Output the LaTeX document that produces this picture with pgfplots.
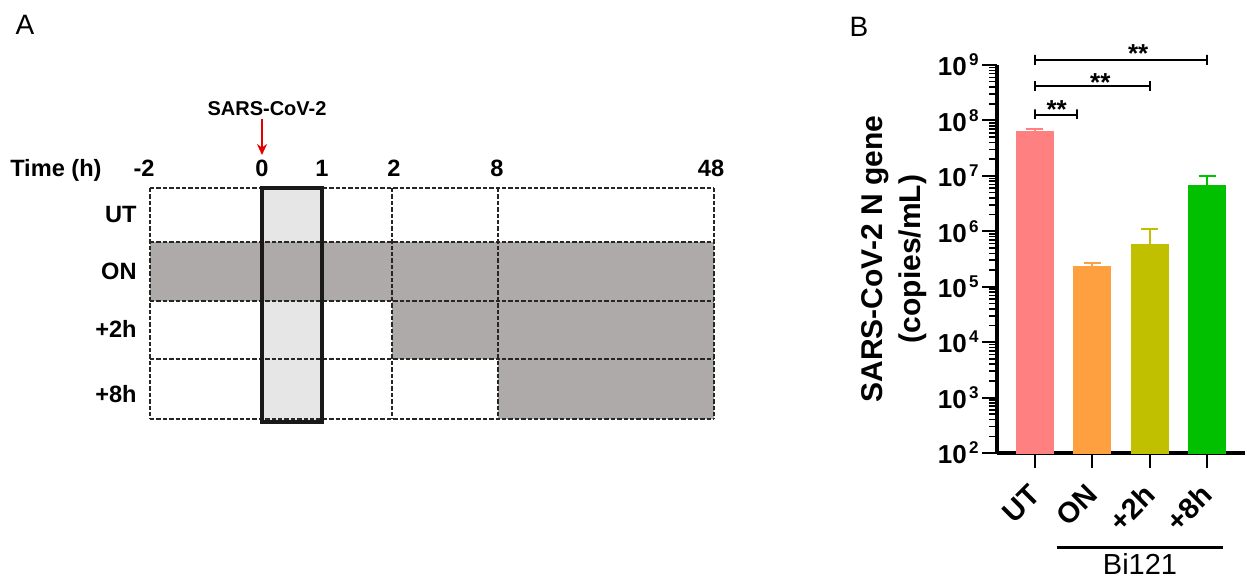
\documentclass[border=0pt]{standalone}
\usepackage{fontspec}
\setmainfont{Liberation Sans}
\usepackage{pgfplots}
\pgfplotsset{compat=1.18}
\usetikzlibrary{arrows.meta}

\definecolor{cUT}{RGB}{255,128,128}
\definecolor{cON}{RGB}{255,160,64}
\definecolor{ctwo}{RGB}{192,192,0}
\definecolor{ceight}{RGB}{0,192,0}
\definecolor{darkfill}{RGB}{174,170,169}
\definecolor{lightfill}{RGB}{230,230,230}
\newcommand{\pw}[1]{10\hspace{1.2pt}\raisebox{5pt}{\fontsize{8.5}{8.5}\selectfont #1}}

\begin{document}
\begin{tikzpicture}
\useasboundingbox (0,0) rectangle (623.5pt,-289.5pt);
% ---------- Panel A and free text, in pixel coordinates ----------
\begin{axis}[at={(311.75pt,-144.75pt)}, anchor=center, scale only axis,
  width=623.5pt, height=289.5pt, xmin=0, xmax=1247, ymin=0, ymax=579,
  y dir=reverse, hide axis, clip=false, unbounded coords=jump]
\addplot[fill=lightfill, draw=none] coordinates {(262,188)(322,188)(322,421)(262,421)} -- cycle;
\addplot[fill=darkfill, draw=none] coordinates {(150,242)(714,242)(714,301)(150,301)} -- cycle;
\addplot[fill=darkfill, draw=none] coordinates {(392,301)(714,301)(714,359)(392,359)} -- cycle;
\addplot[fill=darkfill, draw=none] coordinates {(498,359)(714,359)(714,419)(498,419)} -- cycle;
\addplot[black!85, line width=0.7pt, dash pattern=on 2.2pt off 1pt] coordinates {
 (150,188)(714,188) (nan,nan) (150,242)(714,242) (nan,nan) (150,301)(714,301) (nan,nan)
 (150,359)(714,359) (nan,nan) (150,419)(714,419) (nan,nan) (150,188)(150,419) (nan,nan)
 (392,188)(392,419) (nan,nan) (498,188)(498,419) (nan,nan) (714,188)(714,419)};
\addplot[black!90, line width=1.7pt] coordinates {(262,188)(322,188)(322,422)(262,422)} -- cycle;
\addplot[red!90!black, line width=1pt, -{Stealth[length=5.5pt,width=5pt]}] coordinates {(262,119)(262,155)};
% text
\node[font=\fontsize{14}{14}\selectfont] at (axis cs:25,25) {A};
\node[font=\fontsize{14}{14}\selectfont] at (axis cs:859,27) {B};
\node[font=\fontsize{10}{10}\selectfont\bfseries, anchor=base] at (axis cs:267,115) {SARS-CoV-2};
\begin{scope}[every node/.style={font=\fontsize{11.8}{12}\selectfont\bfseries, anchor=base, inner sep=0pt}]
\node[anchor=base east] at (axis cs:102,176) {Time (h)};
\node at (axis cs:144,176) {-2};
\node at (axis cs:262,176) {0};
\node at (axis cs:322,176) {1};
\node at (axis cs:394,176) {2};
\node at (axis cs:497,176) {8};
\node at (axis cs:711,176) {48};
\node[anchor=base east] at (axis cs:137,222) {UT};
\node[anchor=base east] at (axis cs:137,279) {ON};
\node[anchor=base east] at (axis cs:137,337) {+2h};
\node[anchor=base east] at (axis cs:137,402) {+8h};
\end{scope}
\addplot[black, line width=1.5pt] coordinates {(1057,547)(1223,547)};
\node[font=\fontsize{14.5}{14.5}\selectfont, anchor=base, inner sep=0pt] at (axis cs:1140,574) {Bi121};
\end{axis}
% ---------- Panel B ----------
\begin{axis}[at={(498.5pt,-226.5pt)}, anchor=south west, scale only axis,
  width=124pt, height=194pt, ymode=log, ymin=1e2, ymax=1e9,
  xmin=-0.659, xmax=3.66, axis x line*=bottom, axis y line*=left,
  axis line style={line width=2pt}, log origin=infty, clip=false,
  xtick={0,1,2,3}, xticklabels={UT,ON,+2h,+8h},
  ytick={1e2,1e3,1e4,1e5,1e6,1e7,1e8,1e9},
  yticklabels={\pw{2},\pw{3},\pw{4},\pw{5},\pw{6},\pw{7},\pw{8},\pw{9}},
  minor ytick={200,300,400,500,600,700,800,900,2000,3000,4000,5000,6000,7000,8000,9000,
   2e4,3e4,4e4,5e4,6e4,7e4,8e4,9e4,2e5,3e5,4e5,5e5,6e5,7e5,8e5,9e5,
   2e6,3e6,4e6,5e6,6e6,7e6,8e6,9e6,2e7,3e7,4e7,5e7,6e7,7e7,8e7,9e7,
   2e8,3e8,4e8,5e8,6e8,7e8,8e8,9e8},
  tick align=outside, major tick length=7.5pt, minor tick length=4pt,
  every major tick/.append style={line width=1pt, black},
  every minor tick/.append style={line width=0.8pt, black},
  xticklabel style={yshift=-8.5pt, xshift=2.5pt, rotate=45, anchor=east,
    font=\fontsize{14.5}{14.5}\selectfont\bfseries},
  yticklabel style={font=\fontsize{13}{13}\selectfont\bfseries, inner sep=1.5pt},
  ylabel={SARS-CoV-2 N gene\\(copies/mL)},
  ylabel style={align=center, font=\fontsize{15}{19}\selectfont\bfseries,
    at={(axis description cs:-0.415,0.5)}, anchor=center},
]
\addplot[ybar, bar width=18.5pt, bar shift=0pt, fill=cUT, draw=cUT,
  error bars/.cd, y dir=plus, y explicit,
  error bar style={draw=cUT, line width=1pt},
  error mark options={draw=cUT, rotate=90, mark size=4.25pt, line width=1pt}]
  coordinates {(0,6.44e7) +- (0,0.56e7)};
\addplot[ybar, bar width=18.5pt, bar shift=0pt, fill=cON, draw=cON,
  error bars/.cd, y dir=plus, y explicit,
  error bar style={draw=cON, line width=1pt},
  error mark options={draw=cON, rotate=90, mark size=4.25pt, line width=1pt}]
  coordinates {(1,2.30e5) +- (0,0.34e5)};
\addplot[ybar, bar width=18.5pt, bar shift=0pt, fill=ctwo, draw=ctwo,
  error bars/.cd, y dir=plus, y explicit,
  error bar style={draw=ctwo, line width=1pt},
  error mark options={draw=ctwo, rotate=90, mark size=4.25pt, line width=1pt}]
  coordinates {(2,5.83e5) +- (0,5.27e5)};
\addplot[ybar, bar width=18.5pt, bar shift=0pt, fill=ceight, draw=ceight,
  error bars/.cd, y dir=plus, y explicit,
  error bar style={draw=ceight, line width=1pt},
  error mark options={draw=ceight, rotate=90, mark size=4.25pt, line width=1pt}]
  coordinates {(3,6.64e6) +- (0,3.29e6)};
% significance brackets
\addplot[black, line width=0.8pt] coordinates {(0,1.05e8)(0,1.59e8)(0,1.24e8)(0.73,1.24e8)(0.73,1.59e8)(0.73,1.05e8)};
\addplot[black, line width=0.8pt] coordinates {(0,3.37e8)(0,5.13e8)(0,4.16e8)(2.01,4.16e8)(2.01,5.13e8)(2.01,3.37e8)};
\addplot[black, line width=0.8pt] coordinates {(0,1.0e9)(0,1.52e9)(0,1.23e9)(3.0,1.23e9)(3.0,1.52e9)(3.0,1.0e9)};
\node[font=\fontsize{13}{13}\selectfont\bfseries, anchor=base, inner sep=0pt] at (axis cs:0.38,1.09e8) {**};
\node[font=\fontsize{13}{13}\selectfont\bfseries, anchor=base, inner sep=0pt] at (axis cs:1.14,3.37e8) {**};
\node[font=\fontsize{13}{13}\selectfont\bfseries, anchor=base, inner sep=0pt] at (axis cs:1.80,1.13e9) {**};
\end{axis}
\end{tikzpicture}
\end{document}
